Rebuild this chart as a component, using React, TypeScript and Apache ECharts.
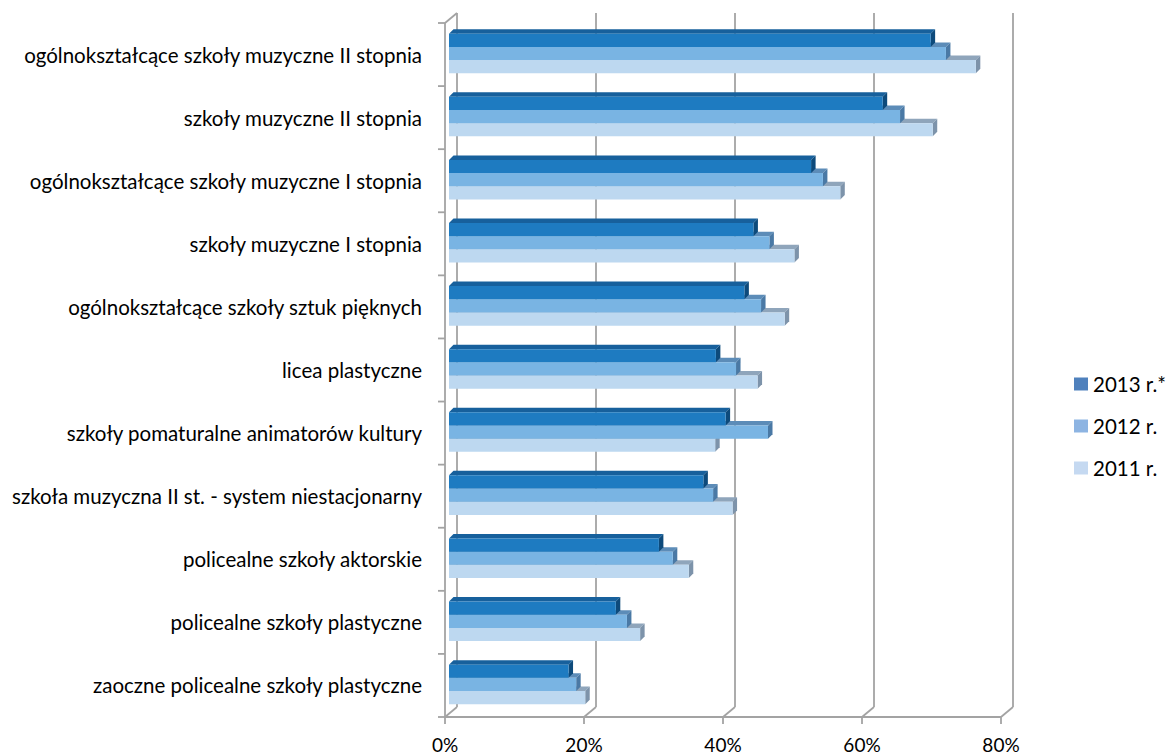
import React, { useEffect, useRef } from "react";
import * as echarts from "echarts";

const categories = [
  "ogólnokształcące szkoły muzyczne II stopnia",
  "szkoły muzyczne II stopnia",
  "ogólnokształcące szkoły muzyczne I stopnia",
  "szkoły muzyczne I stopnia",
  "ogólnokształcące szkoły sztuk pięknych",
  "licea plastyczne",
  "szkoły pomaturalne animatorów kultury",
  "szkoła muzyczna II st. - system niestacjonarny",
  "policealne szkoły aktorskie",
  "policealne szkoły plastyczne",
  "zaoczne policealne szkoły plastyczne",
];

const seriesNames = ["2013 r.*", "2012 r.", "2011 r."];
const values2013 = [69.3, 62.4, 52.1, 43.8, 42.5, 38.4, 39.8, 36.6, 30.2, 24.0, 17.2];
const values2012 = [71.5, 64.9, 53.8, 46.1, 44.9, 41.3, 45.9, 38.0, 32.2, 25.6, 18.3];
const values2011 = [75.8, 69.6, 56.3, 49.7, 48.3, 44.4, 38.3, 40.8, 34.5, 27.5, 19.6];
const xTicks = [0, 20, 40, 60, 80];

const FONT = "Lato";
const GRID_COLOR = "#a3a3a3";

// per series (0 = 2013 top, 1 = 2012, 2 = 2011): legend, front, top, side colours
const palette = [
  { legend: "#4F81BD", front: "#1E7BC1", top: "#17609c", side: "#0d4a7b" },
  { legend: "#8DB4E2", front: "#79B4E3", top: "#5c8cb8", side: "#4a79a5" },
  { legend: "#C5D9F1", front: "#BDD8F0", top: "#8fa5bb", side: "#7d93aa" },
];

function barSeries(name: string, values: number[], slot: number) {
  const c = palette[slot];
  return {
    type: "custom",
    name,
    itemStyle: { color: c.legend },
    clip: false,
    silent: true,
    data: values.map((v, i) => [v, i]),
    renderItem: (params: any, api: any) => {
      const v = api.value(0);
      const i = api.value(1);
      const p0 = api.coord([0, i]);
      const p1 = api.coord([v, i]);
      const band = api.size([0, 1])[1];
      const h = band * 0.209;
      const y0 = p0[1] - band * 0.33 + slot * h;
      const x0 = p0[0] + 4;
      const x1 = p1[0] + 4;
      const d = 4.5;
      return {
        type: "group",
        children: [
          {
            type: "polygon",
            shape: { points: [[x0, y0], [x1, y0], [x1 + d, y0 - d], [x0 + d, y0 - d]] },
            style: { fill: c.top },
          },
          {
            type: "polygon",
            shape: { points: [[x1, y0], [x1 + d, y0 - d], [x1 + d, y0 + h - d], [x1, y0 + h]] },
            style: { fill: c.side },
          },
          {
            type: "rect",
            shape: { x: x0, y: y0, width: x1 - x0, height: h },
            style: { fill: c.front },
          },
        ],
      };
    },
  };
}

const frameSeries = {
  type: "custom",
  name: "frame",
  clip: false,
  silent: true,
  data: [[0, 0]],
  renderItem: (params: any, api: any) => {
    const band = api.size([0, 1])[1];
    const yTop = api.coord([0, 0])[1] - band / 2;
    const yBot = api.coord([0, categories.length - 1])[1] + band / 2;
    const dx = 12;
    const dy = -10;
    const ls = { stroke: GRID_COLOR, lineWidth: 1.8 };
    const children: any[] = [];
    xTicks.forEach((t) => {
      const xf = api.coord([t, 0])[0];
      const xb = xf + dx;
      children.push({ type: "line", shape: { x1: xb, y1: yTop + dy, x2: xb, y2: yBot + dy }, style: ls });
      children.push({ type: "line", shape: { x1: xf, y1: yBot, x2: xb, y2: yBot + dy }, style: ls });
      children.push({ type: "line", shape: { x1: xf, y1: yBot, x2: xf, y2: yBot + 7 }, style: ls });
    });
    const xl = api.coord([0, 0])[0];
    const xr = api.coord([xTicks[xTicks.length - 1], 0])[0];
    children.push({ type: "line", shape: { x1: xl, y1: yBot, x2: xr, y2: yBot }, style: ls });
    children.push({ type: "line", shape: { x1: xl, y1: yTop, x2: xl, y2: yBot }, style: ls });
    children.push({ type: "line", shape: { x1: xl, y1: yTop, x2: xl + dx, y2: yTop + dy }, style: ls });
    for (let k = 0; k <= categories.length; k++) {
      const y = yTop + k * band;
      children.push({ type: "line", shape: { x1: xl - 7, y1: y, x2: xl, y2: y }, style: ls });
    }
    return { type: "group", children };
  },
};

export default function App() {
  const ref = useRef<HTMLDivElement>(null);
  useEffect(() => {
    document.body.style.margin = "0";
    const chart = echarts.init(ref.current!, undefined, { renderer: "svg" });
    chart.setOption({
      animation: false,
      backgroundColor: "#ffffff",
      textStyle: { fontFamily: FONT },
      grid: { left: 445, top: 23, width: 556, height: 694 },
      legend: {
        data: seriesNames,
        orient: "vertical",
        left: 1069,
        top: 368,
        icon: "rect",
        itemWidth: 14,
        itemHeight: 13,
        itemGap: 20,
        textStyle: { fontFamily: FONT, fontSize: 20.5, color: "#000", lineHeight: 22 },
        selectedMode: false,
      },
      xAxis: {
        type: "value",
        min: 0,
        max: 80,
        interval: 20,
        axisLine: { show: false },
        axisTick: { show: false },
        splitLine: { show: false },
        axisLabel: {
          formatter: "{value}%",
          fontFamily: FONT,
          fontSize: 19,
          lineHeight: 19,
          color: "#000",
          margin: 18,
        },
      },
      yAxis: {
        type: "category",
        data: categories,
        inverse: true,
        axisLine: { show: false },
        axisTick: { show: false },
        splitLine: { show: false },
        axisLabel: {
          fontFamily: FONT,
          fontSize: 20.5,
          color: "#000",
          margin: 23,
          padding: [5, 0, 0, 0],
        },
      },
      series: [
        frameSeries,
        barSeries(seriesNames[2], values2011, 2),
        barSeries(seriesNames[1], values2012, 1),
        barSeries(seriesNames[0], values2013, 0),
      ],
    });
    return () => chart.dispose();
  }, []);
  return (
    <div
      ref={ref}
      style={{ position: "absolute", left: 0, top: 0, width: 1168, height: 756 }}
    />
  );
}
